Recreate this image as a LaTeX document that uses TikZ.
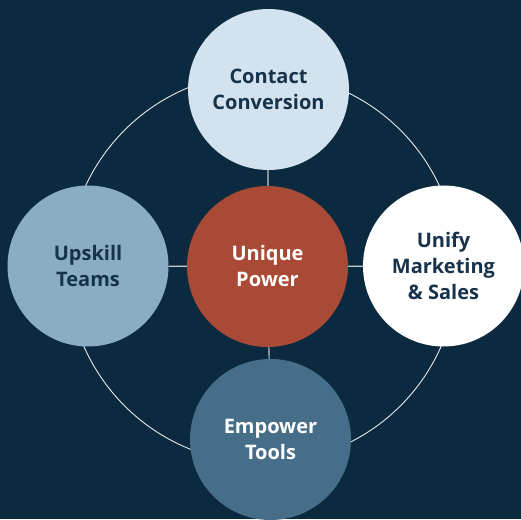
\documentclass[tikz,border=0pt]{standalone}
\usepackage{fontspec}
\setmainfont{Open Sans}
\usetikzlibrary{positioning}
\pgfdeclarelayer{back}
\pgfsetlayers{back,main}

\definecolor{navy}{HTML}{0B2A40}
\definecolor{inkdark}{HTML}{17324B}
\definecolor{paleblue}{HTML}{D2E2EE}
\definecolor{greyblue}{HTML}{8AADC3}
\definecolor{steelblue}{HTML}{476E88}
\definecolor{rust}{HTML}{A84A35}

\tikzset{
  bubble/.style={
    circle,
    minimum size=161pt,
    inner sep=0pt,
    align=center,
    font=\fontsize{20}{26}\selectfont\bfseries,
    text=inkdark},
  hub/.style={bubble, fill=rust, text=white},
  spoke/.style={draw=white!75!navy, line width=1.1pt},
  ring/.style={draw=white!90!navy, line width=0.9pt},
}

\begin{document}
\begin{tikzpicture}[x=1pt, y=1pt]
  \useasboundingbox (0,0) rectangle (521,519);
  \node[hub] (Power) at (267.5,252.5) {Unique\\Power};
  \node[bubble, fill=paleblue] (Contact) at (268.5,429.5) {Contact\\Conversion};
  \node[bubble, fill=greyblue] (Upskill) at (88,253) {Upskill\\Teams};
  \node[bubble, fill=white] (Unify) at (443.5,253) {Unify\\Marketing\\\& Sales};
  \node[bubble, fill=steelblue, text=white] (Empower) at (270.5,79.5) {Empower\\Tools};
  % ring and spokes go under the circles
  \begin{pgfonlayer}{back}
    \fill[navy] (0,0) rectangle (521,519);
    \draw[ring] (262.5,251) circle (195);
    \foreach \outer in {Contact, Upskill, Unify, Empower}
      \draw[spoke] (Power) -- (\outer);
  \end{pgfonlayer}
\end{tikzpicture}
\end{document}
